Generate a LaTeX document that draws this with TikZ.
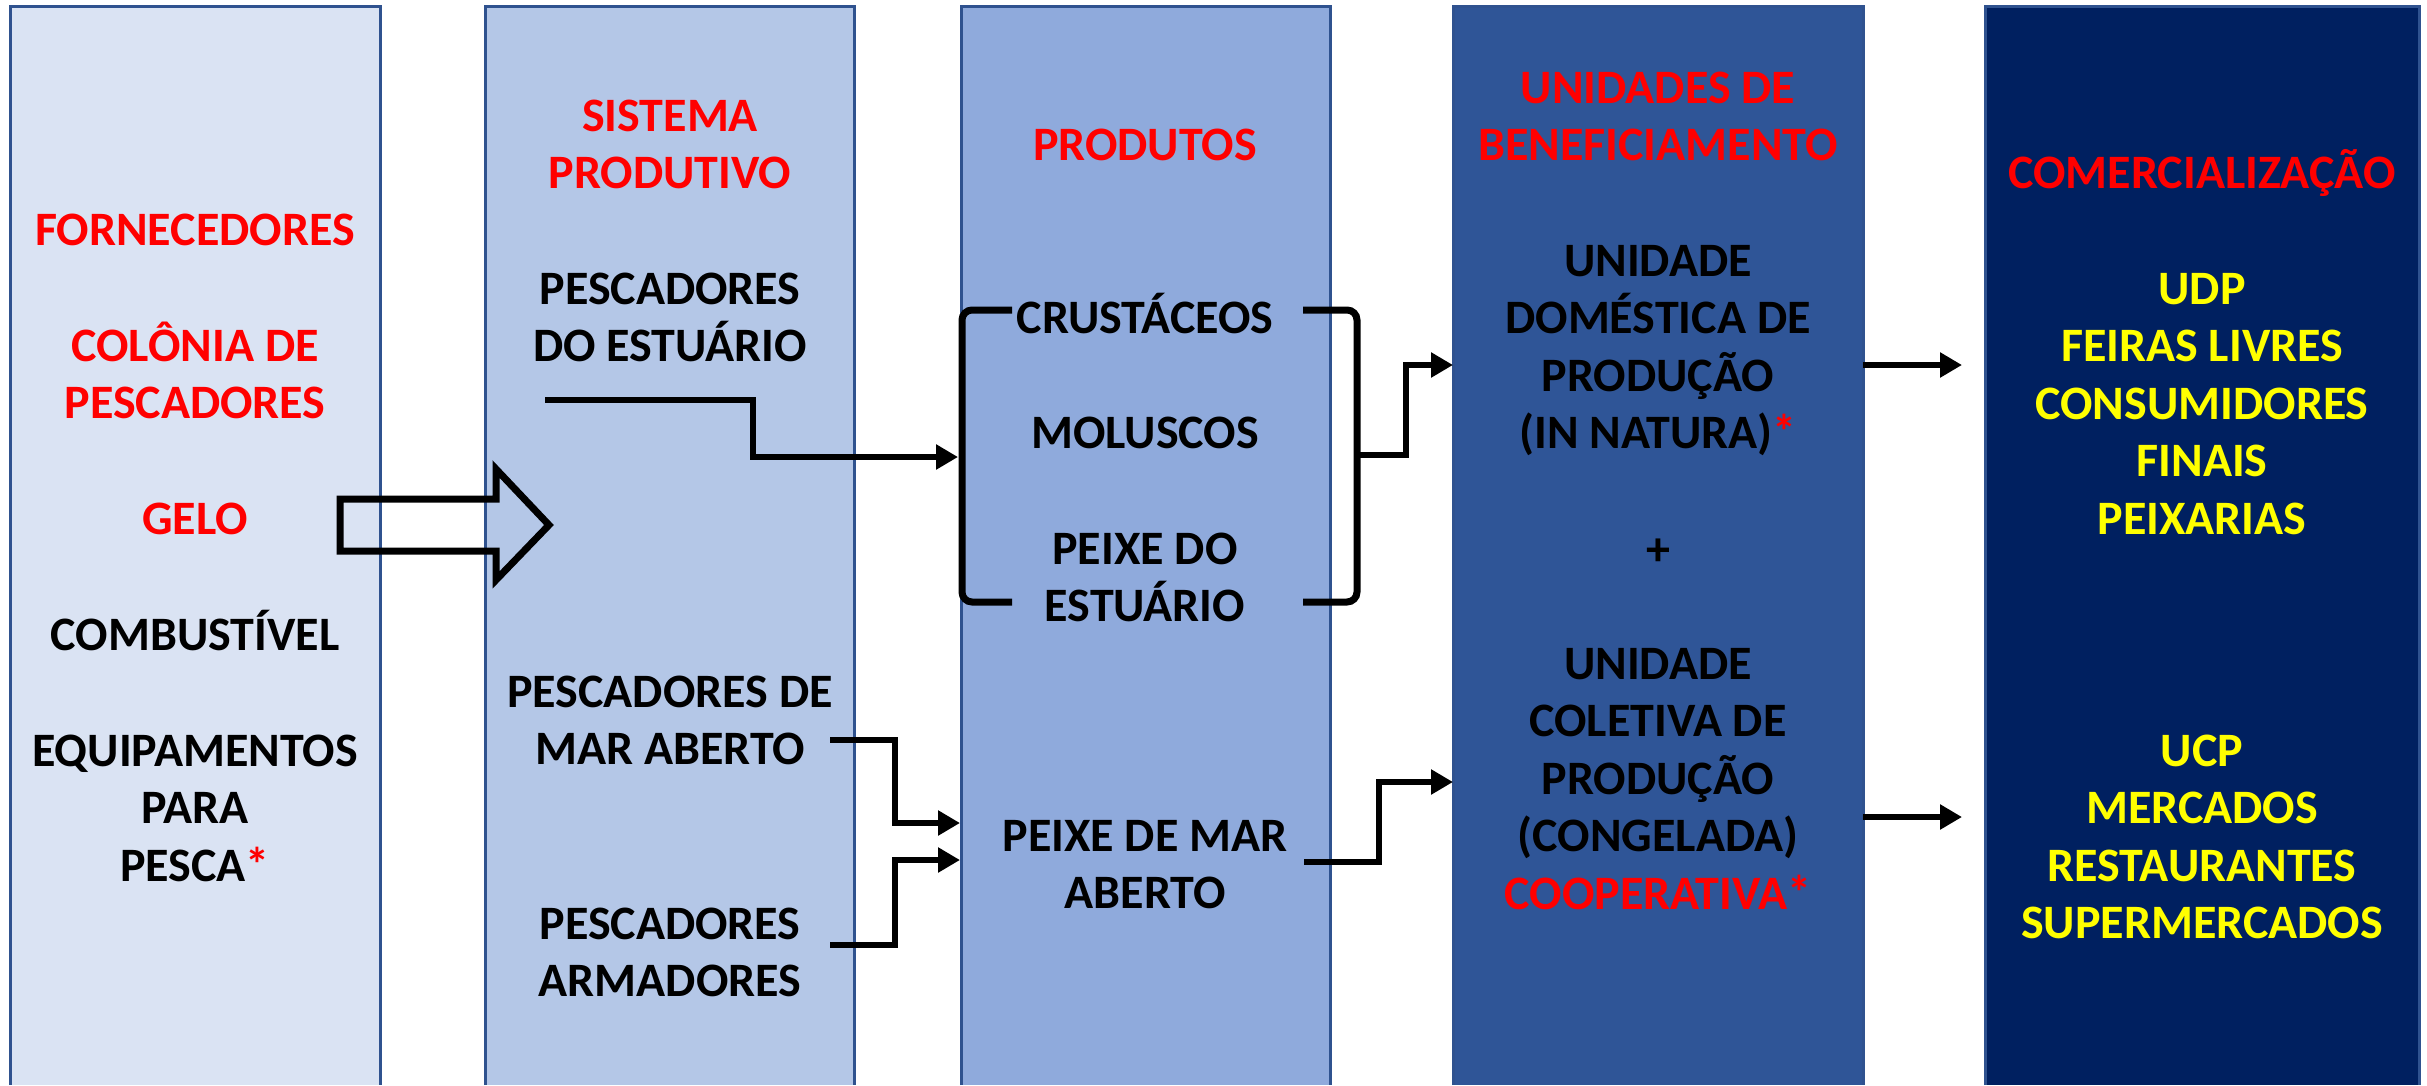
\documentclass[tikz,border=0pt]{standalone}
\usepackage{fontspec}
\setmainfont{Carlito}
\usetikzlibrary{arrows.meta}
\definecolor{cA}{HTML}{DAE3F3}
\definecolor{cB}{HTML}{B4C7E7}
\definecolor{cC}{HTML}{8FAADC}
\definecolor{cD}{HTML}{2F5597}
\definecolor{cE}{HTML}{002060}
\definecolor{cBorder}{HTML}{2F528F}
\definecolor{cRed}{HTML}{FF0000}
\definecolor{cYel}{HTML}{FFFF00}
\newcommand{\Tstr}{\rule{0pt}{40pt}}
\begin{document}
\begin{tikzpicture}[x=1pt,y=-1pt,
  colbox/.style={inner sep=0pt,outer sep=0pt,minimum height=1079pt},
  bord/.style={draw=cBorder,line width=3pt},
  txt/.style={font={\fontsize{48}{57.5}\selectfont\bfseries},align=center,inner sep=0pt,anchor=north},
  conn/.style={line width=6.5pt,line join=miter},
  arr/.style={conn,-{Triangle[length=22pt,width=24pt]}},
  brk/.style={line width=7pt,rounded corners=10pt}]
\useasboundingbox (0,0) rectangle (2427,1085);
\fill[white] (0,0) rectangle (2427,1085);
% columns
\node[colbox,fill=cA,minimum width=370pt] (col1) at (195,545.5) {};
\node[colbox,fill=cB,minimum width=369pt] (col2) at (669.5,545.5) {};
\node[colbox,fill=cC,minimum width=369pt] (col3) at (1145.5,545.5) {};
\node[colbox,fill=cD,minimum width=410pt] (col4) at (1658,545.5) {};
\node[colbox,fill=cE,minimum width=434pt] (col5) at (2202,545.5) {};
\foreach \c in {col1,col2,col3,col4,col5}
  \draw[bord] (\c.south west) -- (\c.north west) -- (\c.north east) -- (\c.south east);
% column 1
\node[txt,text=cRed] (f1) at (195,205) {\Tstr FORNECEDORES};
\node[txt,text=cRed] (f2) at (195,321) {\Tstr COLÔNIA DE\\PESCADORES};
\node[txt,text=cRed] (f3) at (195,494) {\Tstr GELO};
\node[txt] (f4) at (195,610) {\Tstr COMBUSTÍVEL};
\node[txt] (f5) at (195,726) {\Tstr EQUIPAMENTOS\\PARA\\PESCA\textcolor{cRed}{*}};
% column 2
\node[txt,text=cRed] (s1) at (670,91) {\Tstr SISTEMA\\PRODUTIVO};
\node[txt] (s2) at (670,264) {\Tstr PESCADORES\\DO ESTUÁRIO};
\node[txt] (s3) at (670,667) {\Tstr PESCADORES DE\\MAR ABERTO};
\node[txt] (s4) at (670,899) {\Tstr PESCADORES\\ARMADORES};
% column 3
\node[txt,text=cRed] (p1) at (1145,120) {\Tstr PRODUTOS};
\node[txt] (p2) at (1145,293) {\Tstr CRUSTÁCEOS};
\node[txt] (p3) at (1145,408) {\Tstr MOLUSCOS};
\node[txt] (p4) at (1145,524) {\Tstr PEIXE DO\\ESTUÁRIO};
\node[txt] (p5) at (1145,811) {\Tstr PEIXE DE MAR\\ABERTO};
% column 4
\node[txt,text=cRed] (u1) at (1658,63) {\Tstr UNIDADES DE\\BENEFICIAMENTO};
\node[txt] (u2) at (1658,236) {\Tstr UNIDADE\\DOMÉSTICA DE\\PRODUÇÃO\\(IN NATURA)\textcolor{cRed}{*}};
\node[txt] (u3) at (1658,525) {\Tstr +};
\node[txt] (u4) at (1658,639) {\Tstr UNIDADE\\COLETIVA DE\\PRODUÇÃO\\(CONGELADA)\\\textcolor{cRed}{COOPERATIVA*}};
% column 5
\node[txt,text=cRed] (m1) at (2202,148) {\Tstr COMERCIALIZAÇÃO};
\node[txt,text=cYel] (m2) at (2202,264) {\Tstr UDP\\FEIRAS LIVRES\\CONSUMIDORES\\FINAIS\\PEIXARIAS};
\node[txt,text=cYel] (m3) at (2202,726) {\Tstr UCP\\MERCADOS\\RESTAURANTES\\SUPERMERCADOS};
% block arrow suppliers -> production system
\draw[line width=7pt,line join=miter] (340,499) -- (496,499) -- (496,469) -- (549,525)
  -- (496,580) -- (496,551) -- (340,551) -- cycle;
% brackets
\draw[brk] (1012,310) -- (962,310) -- (962,602) -- (1012,602);
\draw[brk] (1303,310) -- (1357,310) -- (1357,602) -- (1303,602);
% connector coordinates
\coordinate (e1) at (545,400);
\coordinate (brL) at (958,457);
\coordinate (brR) at (1360,455);
\coordinate (u2in) at (1453,365);
\coordinate (a1) at (830,740);
\coordinate (a2) at (830,945);
\coordinate (pA) at (960,823);
\coordinate (pB) at (960,860);
\coordinate (q1) at (1304,862);
\coordinate (u4in) at (1453,782);
\coordinate (o1) at (1863,365);
\coordinate (o2) at (1863,817);
\coordinate (c1in) at (1962,365);
\coordinate (c2in) at (1962,817);
% connectors
\draw[arr] (e1) -| (753,457) -- (brL);
\draw[arr] (brR) -- (1406,455) |- (u2in);
\draw[arr] (a1) -| (895,823) -- (pA);
\draw[arr] (a2) -| (895,860) -- (pB);
\draw[arr] (q1) -| (1379,782) -- (u4in);
\draw[arr] (o1) -- (c1in);
\draw[arr] (o2) -- (c2in);
\end{tikzpicture}
\end{document}
